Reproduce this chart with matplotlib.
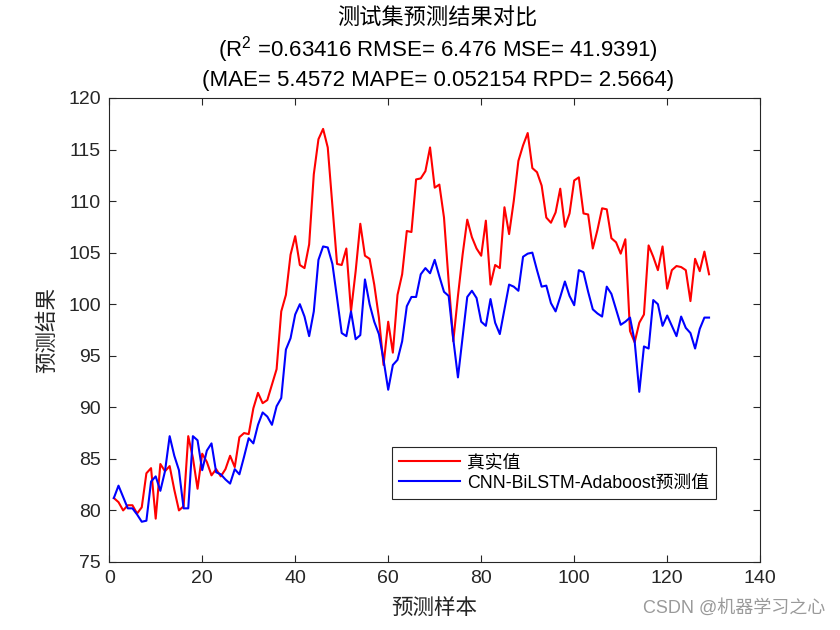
import numpy as np
import matplotlib
matplotlib.use("Agg")
import matplotlib.pyplot as plt

# values
true_vals = [81.2, 80.8, 80.0, 80.5, 80.5, 79.7, 80.3, 83.6, 84.1, 79.2,
             84.5, 83.8, 84.3, 82.0, 80.0, 80.4, 87.2, 85.1, 82.1, 85.5,
             84.7, 83.4, 84.0, 83.3, 84.0, 85.3, 84.2, 87.1, 87.5, 87.4,
             89.9, 91.4, 90.4, 90.7, 92.2, 93.7, 99.3, 100.9, 104.8, 106.6,
             103.8, 103.5, 105.8, 112.6, 116.0, 117.0, 115.2, 109.5, 103.9, 103.8,
             105.4, 99.3, 103.2, 107.8, 104.7, 104.4, 101.9, 98.7, 94.1, 98.3,
             95.3, 100.9, 102.9, 107.1, 107.0, 112.1, 112.2, 112.9, 115.2, 111.3,
             111.6, 108.4, 102.2, 96.4, 100.8, 104.8, 108.2, 106.5, 105.4, 104.7,
             108.1, 101.9, 103.8, 103.5, 109.4, 106.8, 110.0, 113.9, 115.4, 116.6,
             113.2, 112.8, 111.5, 108.4, 107.9, 108.9, 111.2, 107.5, 108.8, 112.0,
             112.3, 108.8, 108.7, 105.4, 107.2, 109.3, 109.2, 106.4, 106.0, 104.9,
             106.3, 97.4, 96.3, 98.2, 99.0, 105.7, 104.6, 103.3, 105.6, 101.5,
             103.3, 103.7, 103.6, 103.3, 100.3, 104.4, 103.2, 105.1, 102.9]

pred_vals = [81.2, 82.4, 81.3, 80.2, 80.2, 79.6, 78.9, 79.0, 82.8, 83.3,
             81.9, 83.8, 87.2, 85.3, 83.9, 80.2, 80.2, 87.2, 86.8, 83.9,
             85.8, 86.5, 83.7, 83.5, 83.0, 82.6, 84.0, 83.5, 85.2, 87.0,
             86.5, 88.3, 89.5, 89.1, 88.3, 90.1, 90.9, 95.6, 96.7, 99.0,
             100.0, 98.8, 96.9, 99.3, 104.3, 105.6, 105.5, 103.9, 100.6, 97.2,
             96.9, 99.3, 96.6, 97.0, 102.4, 100.0, 98.3, 97.1, 94.6, 91.7,
             94.1, 94.6, 96.4, 99.8, 100.7, 100.7, 102.9, 103.5, 103.0, 104.3,
             102.7, 101.2, 100.8, 96.6, 92.9, 96.8, 100.7, 101.3, 100.6, 98.3,
             97.9, 100.5, 98.2, 97.1, 99.5, 101.9, 101.7, 101.3, 104.6, 104.9,
             105.0, 103.3, 101.7, 101.8, 100.1, 99.3, 100.7, 102.2, 100.8, 99.9,
             103.3, 103.1, 101.2, 99.5, 99.1, 98.8, 101.7, 101.0, 99.5, 98.0,
             98.3, 98.7, 96.4, 91.5, 95.9, 95.7, 100.4, 100.0, 97.9, 98.9,
             97.9, 96.9, 98.8, 97.7, 97.2, 95.7, 97.6, 98.7, 98.7]

samples = np.arange(1, len(true_vals) + 1)

title_cn = '测试集预测结果对比'
title_l2 = '(R$^2$ =0.63416 RMSE= 6.476 MSE= 41.9391)'
title_l3 = '(MAE= 5.4572 MAPE= 0.052154 RPD= 2.5664)'
legend_labels = ['真实值', 'CNN-BiLSTM-Adaboost预测值']

plt.rcParams['font.family'] = ['Liberation Sans', 'Noto Sans CJK SC']
plt.rcParams['mathtext.fontset'] = 'custom'
plt.rcParams['mathtext.rm'] = 'Liberation Sans'
plt.rcParams['mathtext.it'] = 'Liberation Sans'

axis_col = '#262626'
cjk = ['Noto Sans CJK SC', 'Liberation Sans']

fig = plt.figure(figsize=(8.4, 6.3), dpi=100)
ax = fig.add_axes([0.13, 0.108, 0.775, 0.7365])

ax.plot(samples, true_vals, color='red', lw=1.5, label=legend_labels[0])
ax.plot(samples, pred_vals, color='blue', lw=1.5, label=legend_labels[1])

ax.set_xlim(0, 140)
ax.set_ylim(75, 120)
ax.set_xticks(np.arange(0, 141, 20))
ax.set_yticks(np.arange(75, 121, 5))
ax.tick_params(direction='in', top=True, right=True, length=5,
               labelsize=14, colors=axis_col, width=0.8, pad=6)
for sp in ax.spines.values():
    sp.set_color(axis_col)
    sp.set_linewidth(0.8)

# three-line title
fig.text(0.521, 0.971, title_cn, ha='center', va='center',
         fontsize=16, family=cjk, color='black')
fig.text(0.521, 0.921, title_l2, ha='center', va='center',
         fontsize=16, color='black')
fig.text(0.521, 0.872, title_l3, ha='center', va='center',
         fontsize=16, color='black')

fig.text(0.517, 0.035, '预测样本', ha='center', va='center',
         fontsize=15.5, family=cjk, color=axis_col)
fig.text(0.056, 0.476, '预测结果', ha='center', va='center', rotation=90,
         fontsize=15.5, family=cjk, color=axis_col)

leg = ax.legend(loc='upper left', bbox_to_anchor=(0.435, 0.248),
                fontsize=12.8, fancybox=False, framealpha=1,
                edgecolor=axis_col, handlelength=3.4, borderaxespad=0,
                borderpad=0.4, labelspacing=0.2, handletextpad=0.4)
leg.get_frame().set_linewidth(0.8)

fig.text(0.982, 0.035, 'CSDN @机器学习之心', ha='right', va='center',
         fontsize=13, family=['Liberation Sans', 'Noto Sans CJK SC'],
         color='#9a9a9a')

fig.savefig('out.png', dpi=100)
